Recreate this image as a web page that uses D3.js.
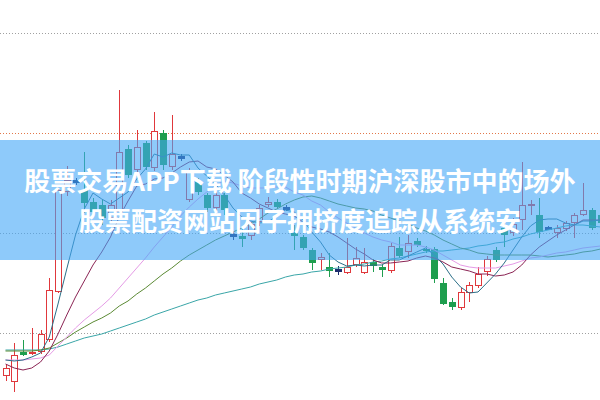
<!DOCTYPE html>
<html><head><meta charset="utf-8">
<script src="https://cdn.jsdelivr.net/npm/d3@7"></script>
<style>html,body{margin:0;padding:0;background:#fff;overflow:hidden}svg{display:block}</style>
</head><body><svg id="c" width="600" height="400"></svg>
<script>
// ---- data (price units) ----
const opens=[8.57,8.51,8.81,8.79,8.81,8.93,9.41,10.41,10.52,10.43,
10.31,10.28,10.15,10.21,10.84,10.63,10.90,10.65,11.00,10.66,
10.76,10.33,10.51,10.38,10.25,10.38,9.98,9.97,9.97,10.11,
10.28,10.31,10.25,10.00,9.96,9.83,9.73,9.66,9.63,9.60,
9.68,9.60,9.71,9.66,9.62,9.85,9.81,9.92,9.84,9.84,
9.50,9.31,9.25,9.40,9.47,9.61,9.83,10.05,10.00,10.13,
10.27,10.18,10.05,10.00,10.04,10.10,10.18,10.23,10.18];
const closes=[8.65,8.78,8.78,8.81,8.99,9.43,10.43,10.53,10.52,10.30,
10.21,10.15,10.28,10.81,10.58,10.86,10.66,11.02,10.68,10.79,
10.76,10.63,10.41,10.25,10.38,10.23,9.98,9.94,10.09,10.25,
10.31,10.26,10.25,9.97,9.85,9.70,9.76,9.62,9.63,9.66,
9.75,9.71,9.67,9.63,9.87,9.77,9.90,9.88,9.82,9.54,
9.29,9.26,9.41,9.48,9.59,9.74,9.73,9.98,10.09,10.28,
10.29,10.01,10.05,10.05,10.10,10.18,10.23,10.05,10.10];
const highs=[8.68,8.90,8.93,9.05,9.03,9.55,10.45,10.67,10.55,10.81,
10.35,10.33,10.33,11.43,10.88,11.03,10.92,11.21,11.03,11.18,
10.79,10.65,10.55,10.40,10.41,10.40,10.01,10.05,10.11,10.28,
10.36,10.34,10.28,10.08,9.98,9.85,9.80,9.80,9.67,9.95,
9.86,9.85,9.74,9.68,9.90,9.96,9.98,9.95,9.87,9.86,
9.55,9.35,9.45,9.51,9.66,9.77,9.86,10.10,10.15,10.71,
10.33,10.35,10.07,10.08,10.12,10.20,10.50,10.25,10.21];
const lows=[8.52,8.41,8.77,8.78,8.79,8.91,9.40,10.37,10.48,10.20,
10.19,10.08,10.11,10.17,10.55,10.61,10.63,10.62,10.63,10.63,
10.72,10.31,10.38,10.21,10.21,10.18,9.93,9.86,9.93,10.07,
10.26,10.24,10.22,9.83,9.83,9.63,9.63,9.56,9.58,9.59,
9.66,9.59,9.61,9.56,9.60,9.75,9.75,9.86,9.80,9.50,
9.28,9.23,9.23,9.31,9.45,9.57,9.71,9.86,9.97,10.03,
10.18,9.95,10.03,9.95,10.02,9.95,10.17,10.03,10.07];

const ma5=[8.73,8.72,8.73,8.76,8.80,8.96,9.29,9.64,9.98,10.24,
10.40,10.34,10.29,10.35,10.41,10.54,10.64,10.79,10.76,10.80,
10.78,10.78,10.65,10.57,10.49,10.38,10.25,10.16,10.12,10.10,
10.11,10.17,10.23,10.21,10.13,10.01,9.91,9.78,9.71,9.67,
9.68,9.67,9.68,9.68,9.73,9.73,9.77,9.81,9.85,9.78,
9.69,9.56,9.46,9.40,9.41,9.50,9.59,9.70,9.83,9.96,
10.07,10.13,10.14,10.14,10.10,10.08,10.12,10.12,10.13];
const ma10=[8.69,8.65,8.63,8.65,8.71,8.82,8.99,9.18,9.36,9.52,
9.68,9.81,9.96,10.16,10.32,10.47,10.49,10.54,10.55,10.60,
10.66,10.71,10.72,10.66,10.64,10.58,10.51,10.40,10.35,10.29,
10.25,10.21,10.19,10.17,10.11,10.06,10.04,10.01,9.96,9.90,
9.84,9.79,9.73,9.70,9.70,9.71,9.72,9.75,9.77,9.75,
9.71,9.66,9.64,9.62,9.59,9.59,9.57,9.58,9.61,9.68,
9.78,9.86,9.92,9.98,10.03,10.08,10.13,10.13,10.13];
const ma20=[8.73,8.73,8.73,8.74,8.75,8.78,8.87,8.96,9.05,9.13,
9.20,9.27,9.35,9.45,9.55,9.65,9.75,9.86,9.96,10.06,
10.17,10.26,10.34,10.41,10.48,10.52,10.50,10.47,10.45,10.45,
10.45,10.46,10.46,10.41,10.38,10.32,10.28,10.21,10.15,10.10,
10.05,10.00,9.96,9.93,9.91,9.88,9.88,9.88,9.86,9.83,
9.78,9.73,9.68,9.66,9.65,9.65,9.65,9.67,9.69,9.72,
9.75,9.76,9.78,9.80,9.81,9.83,9.85,9.86,9.87];
const ma30=[8.82,8.82,8.82,8.82,8.83,8.85,8.90,8.95,9.01,9.06,
9.11,9.15,9.20,9.27,9.32,9.39,9.45,9.52,9.59,9.65,
9.72,9.78,9.83,9.88,9.93,9.97,10.01,10.05,10.09,10.14,
10.20,10.24,10.29,10.33,10.36,10.37,10.35,10.32,10.29,10.27,
10.25,10.24,10.22,10.18,10.15,10.12,10.09,10.05,10.02,9.98,
9.93,9.89,9.85,9.83,9.80,9.79,9.78,9.78,9.78,9.78,
9.78,9.77,9.76,9.77,9.78,9.79,9.81,9.82,9.84];
const ma60=[8.83,8.83,8.83,8.83,8.83,8.84,8.86,8.89,8.92,8.95,
8.97,8.99,9.02,9.05,9.08,9.11,9.14,9.18,9.21,9.24,
9.27,9.30,9.33,9.35,9.38,9.40,9.42,9.44,9.46,9.49,
9.51,9.53,9.56,9.58,9.59,9.61,9.62,9.64,9.65,9.66,
9.68,9.69,9.71,9.72,9.74,9.75,9.77,9.79,9.81,9.82,
9.82,9.83,9.84,9.85,9.87,9.88,9.90,9.91,9.94,9.96,
9.99,10.01,10.03,10.05,10.07,10.08,10.08,10.07,10.06];

const gridLevels=[9,10,11,12];
const refLevel=11;
const titleLines=["股票交易APP下载 阶段性时期沪深股市中的场外","股票配资网站因子拥挤度追踪从系统安"];

// ---- drawing ----
const W=600,H=400;
const svg=d3.select("#c");
const x=d3.scaleLinear().domain([0,opens.length-1]).range([5.5,600.5]);
const y=d3.scaleLinear().domain([9,12]).range([333,33]);

const RED="#e0383c",GREEN="#1e9e4e",NAVY="#1d2e6e";

// grid
svg.append("g").selectAll("line").data(gridLevels).join("line")
  .attr("x1",0).attr("x2",W)
  .attr("y1",d=>Math.round(y(d))+0.5).attr("y2",d=>Math.round(y(d))+0.5)
  .attr("stroke",d=>d===refLevel?"#e2784a":"#a0a0a0")
  .attr("stroke-width",1).attr("stroke-dasharray","1,2");

// candles
const gC=svg.append("g");
opens.forEach((o,i)=>{
  const c=closes[i],hi=highs[i],lo=lows[i];
  const xc=Math.round(x(i))+0.5;
  const doji=Math.abs(o-c)<0.015;
  const up=c>o;
  const col=doji?NAVY:(up?RED:GREEN);
  gC.append("line").attr("x1",xc).attr("x2",xc)
    .attr("y1",Math.round(y(hi))).attr("y2",Math.round(y(lo)))
    .attr("stroke",col).attr("stroke-width",1);
  const top=Math.round(y(Math.max(o,c))),bot=Math.round(y(Math.min(o,c)));
  if(doji){
    gC.append("rect").attr("x",xc-3.5).attr("y",top-1).attr("width",7).attr("height",3).attr("fill",col);
  }else if(up){
    gC.append("rect").attr("x",xc-3).attr("y",top+0.5).attr("width",6).attr("height",Math.max(1,bot-top-1))
      .attr("fill","#fff").attr("stroke",col).attr("stroke-width",1);
  }else{
    gC.append("rect").attr("x",xc-3.5).attr("y",top).attr("width",7).attr("height",Math.max(1,bot-top)).attr("fill",col);
  }
});

// moving averages
const line=d3.line().x((d,i)=>x(i)).y(d=>y(d));
const series=[[ma60,"#3aa6a8"],[ma30,"#5b8a34"],[ma20,"#e59be6"],[ma10,"#8b2454"],[ma5,"#2c6f88"]];
svg.append("g").selectAll("path").data(series).join("path")
  .attr("d",d=>line(d[0])).attr("fill","none").attr("stroke",d=>d[1]).attr("stroke-width",1);

// banner overlay
svg.append("rect").attr("x",0).attr("y",140).attr("width",W).attr("height",120)
  .attr("fill","rgb(67,167,247)").attr("fill-opacity",0.6);

svg.append("g").selectAll("text").data(titleLines).join("text")
  .attr("x",300).attr("y",(d,i)=>191+i*40)
  .attr("text-anchor","middle")
  .attr("font-family","'Noto Sans CJK SC','Noto Sans',sans-serif")
  .attr("font-weight",700).attr("font-size",26).attr("fill","#fff")
  .text(d=>d);
</script></body></html>
